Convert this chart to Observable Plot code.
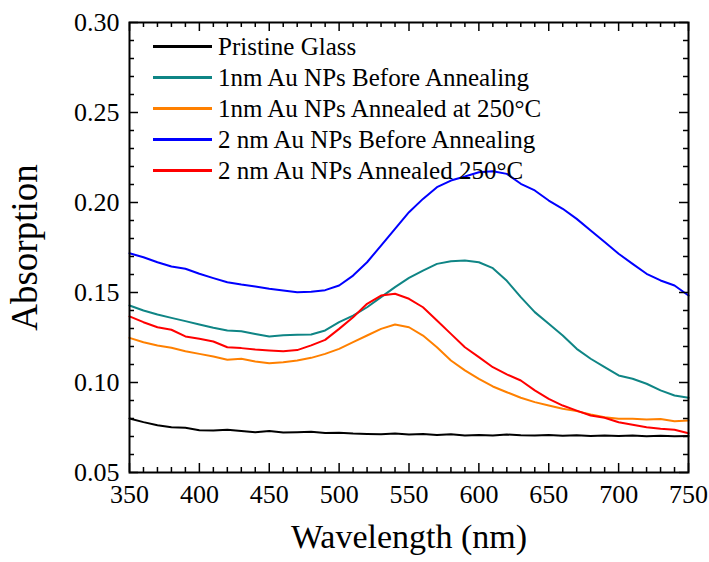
<!DOCTYPE html>
<html><head><meta charset="utf-8">
<script src="https://cdn.jsdelivr.net/npm/d3@7"></script>
<script src="https://cdn.jsdelivr.net/npm/@observablehq/plot@0.6"></script>
<style>
body{margin:0;background:#fff;}
#wrap{position:relative;width:709px;height:562px;font-family:'Liberation Serif',Tinos,'Times New Roman',serif;}
#legend{position:absolute;left:153px;top:31px;font-family:'Liberation Serif',Tinos,'Times New Roman',serif;}
.row{display:flex;align-items:center;height:31px;font-size:25px;line-height:31px;color:#000;white-space:nowrap;}
.sw{width:59px;height:2.5px;margin-right:6px;}
</style></head><body><div id="wrap"><div id="legend"></div></div>
<script>
const wavelength = [350,360,370,380,390,400,410,420,430,440,450,460,470,480,490,500,510,520,530,540,550,560,570,580,590,600,610,620,630,640,650,660,670,680,690,700,710,720,730,740,750];
const pristineGlass = [0.0800,0.0780,0.0762,0.0752,0.0748,0.0735,0.0733,0.0737,0.0730,0.0724,0.0730,0.0722,0.0724,0.0726,0.0719,0.0721,0.0716,0.0714,0.0712,0.0716,0.0711,0.0714,0.0708,0.0712,0.0706,0.0709,0.0706,0.0711,0.0707,0.0705,0.0708,0.0704,0.0707,0.0703,0.0706,0.0703,0.0705,0.0702,0.0704,0.0701,0.0703];
const au1Before = [0.1428,0.1400,0.1378,0.1359,0.1341,0.1322,0.1304,0.1289,0.1285,0.1270,0.1256,0.1263,0.1265,0.1267,0.1289,0.1335,0.1372,0.1418,0.1474,0.1530,0.1581,0.1622,0.1659,0.1674,0.1678,0.1668,0.1635,0.1565,0.1474,0.1391,0.1326,0.1261,0.1187,0.1132,0.1085,0.1039,0.1021,0.0993,0.0956,0.0928,0.0915];
const au1Annealed = [0.1248,0.1224,0.1206,0.1193,0.1174,0.1159,0.1144,0.1126,0.1132,0.1117,0.1107,0.1113,0.1122,0.1137,0.1159,0.1187,0.1224,0.1261,0.1298,0.1322,0.1307,0.1261,0.1196,0.1122,0.1067,0.1020,0.0978,0.0946,0.0915,0.0891,0.0872,0.0854,0.0841,0.0822,0.0807,0.0798,0.0798,0.0795,0.0797,0.0785,0.0789];
const au2Before = [0.1718,0.1696,0.1668,0.1644,0.1632,0.1604,0.1580,0.1557,0.1544,0.1533,0.1521,0.1511,0.1502,0.1504,0.1513,0.1539,0.1594,0.1668,0.1761,0.1854,0.1946,0.2020,0.2085,0.2122,0.2144,0.2168,0.2174,0.2159,0.2104,0.2067,0.2011,0.1965,0.1909,0.1844,0.1780,0.1715,0.1659,0.1604,0.1567,0.1539,0.1483];
const au2Annealed = [0.1367,0.1335,0.1307,0.1293,0.1256,0.1243,0.1228,0.1196,0.1191,0.1183,0.1178,0.1174,0.1180,0.1206,0.1237,0.1298,0.1363,0.1437,0.1483,0.1493,0.1465,0.1418,0.1344,0.1270,0.1196,0.1141,0.1085,0.1045,0.1011,0.0956,0.0909,0.0872,0.0844,0.0817,0.0804,0.0779,0.0765,0.0752,0.0743,0.0737,0.0718];

const seriesNames = ["Pristine Glass","1nm Au NPs Before Annealing","1nm Au NPs Annealed at 250°C","2 nm Au NPs Before Annealing","2 nm Au NPs Annealed 250°C"];
const seriesValues = [pristineGlass, au1Before, au1Annealed, au2Before, au2Annealed];
const seriesColors = ["#000000","#0f8585","#ff8000","#0000ff","#ff0000"];

const xMajor = [350,400,450,500,550,600,650,700,750];
const xMinor = d3.range(350,751,10).filter(v => v % 50 !== 0);
const yMajor = [0.05,0.10,0.15,0.20,0.25,0.30];
const yMinor = d3.range(5,31,1).filter(v => v % 5 !== 0).map(v => v/100);

const W = 709, H = 562, ML = 129, MR = 21, MT = 22, MB = 90;
const IW = W - ML - MR, IH = H - MT - MB;
const tickStyle = {stroke:"black", strokeWidth:1.5};

const marks = [];
seriesValues.forEach((vals, k) => {
  marks.push(Plot.line(vals, {x:(d,i)=>wavelength[i], y:d=>d, stroke:seriesColors[k], strokeWidth:2}));
});
marks.push(
  Plot.tickX(xMajor, {x:d=>d, insetTop:IH-9, ...tickStyle}),
  Plot.tickX(xMinor, {x:d=>d, insetTop:IH-5, ...tickStyle}),
  Plot.tickX(xMajor, {x:d=>d, insetBottom:IH-9, ...tickStyle}),
  Plot.tickX(xMinor, {x:d=>d, insetBottom:IH-5, ...tickStyle}),
  Plot.tickY(yMajor, {y:d=>d, insetRight:IW-9, ...tickStyle}),
  Plot.tickY(yMinor, {y:d=>d, insetRight:IW-5, ...tickStyle}),
  Plot.tickY(yMajor, {y:d=>d, insetLeft:IW-9, ...tickStyle}),
  Plot.tickY(yMinor, {y:d=>d, insetLeft:IW-5, ...tickStyle}),
  Plot.frame({stroke:"black", strokeWidth:2}),
  Plot.axisX(xMajor, {tickSize:0, tickPadding:12, fontSize:26, tickFormat:d=>String(d), label:null}),
  Plot.axisX([], {tickSize:0, label:"Wavelength (nm)", labelAnchor:"center", labelOffset:75, fontSize:34, labelArrow:"none"}),
  Plot.axisY(yMajor, {tickSize:0, tickPadding:10, fontSize:26, tickFormat:d=>d.toFixed(2), label:null}),
  Plot.axisY([], {tickSize:0, label:"Absorption", labelAnchor:"center", labelOffset:119, fontSize:37, labelArrow:"none"})
);

const chart = Plot.plot({
  width:W, height:H, marginLeft:ML, marginRight:MR, marginTop:MT, marginBottom:MB,
  x:{domain:[350,750]}, y:{domain:[0.05,0.30]},
  style:{fontFamily:"'Liberation Serif', Tinos, 'Times New Roman', serif", fontSize:"26px", color:"black", background:"white"},
  marks
});
const wrap = document.getElementById("wrap");
wrap.insertBefore(chart, wrap.firstChild);

const legend = document.getElementById("legend");
seriesNames.forEach((name, k) => {
  const row = document.createElement("div");
  row.className = "row";
  const sw = document.createElement("span");
  sw.className = "sw";
  sw.style.background = seriesColors[k];
  const tx = document.createElement("span");
  tx.textContent = name;
  row.appendChild(sw); row.appendChild(tx);
  legend.appendChild(row);
});
</script></body></html>
